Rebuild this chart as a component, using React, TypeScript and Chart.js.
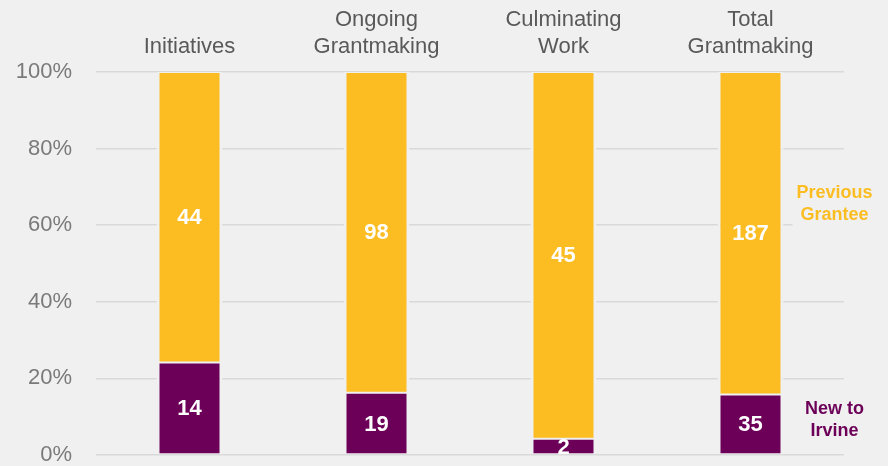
import React, { useEffect, useRef } from "react";
import { Chart, registerables } from "chart.js";

Chart.register(...registerables);

const categories: (string | string[])[] = [
  "Initiatives",
  ["Ongoing", "Grantmaking"],
  ["Culminating", "Work"],
  ["Total", "Grantmaking"],
];
const newToIrvine = [14, 19, 2, 35];
const previousGrantee = [44, 98, 45, 187];
const yTicks = [0, 20, 40, 60, 80, 100];

const seriesNames = ["New to Irvine", "Previous Grantee"];

const BG = "#f0f0f0";
const PURPLE = "#6c0058";
const YELLOW = "#fbbd22";

const pct = (v: number, i: number) => (v / (newToIrvine[i] + previousGrantee[i])) * 100;

const labelPlugin = {
  id: "segLabels",
  afterDatasetsDraw(chart: any) {
    const { ctx, chartArea } = chart;
    ctx.save();
    ctx.beginPath();
    ctx.rect(chartArea.left, chartArea.top, chartArea.right - chartArea.left, chartArea.bottom - chartArea.top);
    ctx.clip();
    ctx.fillStyle = "#ffffff";
    ctx.font = "bold 22px 'Liberation Sans', Arial, sans-serif";
    ctx.textAlign = "center";
    ctx.textBaseline = "middle";
    chart.data.datasets.forEach((ds: any, di: number) => {
      const meta = chart.getDatasetMeta(di);
      meta.data.forEach((bar: any, i: number) => {
        const top = Math.min(bar.y, bar.base);
        const bot = Math.max(bar.y, bar.base);
        ctx.fillText(String(ds.counts[i]), bar.x, (top + bot) / 2 + 1);
      });
    });
    ctx.restore();

    const y = chart.scales.y;
    const lastIdx = categories.length - 1;
    const lastBar = chart.getDatasetMeta(0).data[lastIdx];
    const x = lastBar.x + 84;
    const items = [
      { lines: ["New to", "Irvine"], color: PURPLE, v: 9.1 },
      { lines: ["Previous", "Grantee"], color: YELLOW, v: 65.5 },
    ];
    ctx.save();
    ctx.font = "bold 18px 'Liberation Sans', Arial, sans-serif";
    ctx.textAlign = "center";
    ctx.textBaseline = "middle";
    items.forEach((it) => {
      const cy = y.getPixelForValue(it.v);
      const lh = 21.5;
      const w = Math.max(...it.lines.map((l) => ctx.measureText(l).width)) + 8;
      ctx.fillStyle = BG;
      ctx.fillRect(x - w / 2, cy - lh - 2, w, lh * 2 + 4);
      ctx.fillStyle = it.color;
      ctx.fillText(it.lines[0], x, cy - lh / 2);
      ctx.fillText(it.lines[1], x, cy + lh / 2);
    });
    ctx.restore();
  },
};

const bgPlugin = {
  id: "bg",
  beforeDraw(chart: any) {
    const { ctx, width, height } = chart;
    ctx.save();
    ctx.fillStyle = BG;
    ctx.fillRect(0, 0, width, height);
    ctx.restore();
  },
};

export default function App() {
  const ref = useRef<HTMLCanvasElement | null>(null);
  useEffect(() => {
    document.body.style.margin = "0";
    document.body.style.background = BG;
    if (!ref.current) return;
    const border = { top: 1, bottom: 1, left: 3, right: 3 };
    const chart = new Chart(ref.current, {
      type: "bar",
      data: {
        labels: categories,
        datasets: [
          {
            label: seriesNames[0],
            data: newToIrvine.map((v, i) => pct(v, i)),
            counts: newToIrvine,
            backgroundColor: PURPLE,
            borderColor: BG,
            borderWidth: border,
            borderSkipped: false,
            barPercentage: 66 / 187,
            categoryPercentage: 1,
          } as any,
          {
            label: seriesNames[1],
            data: previousGrantee.map((v, i) => pct(v, i)),
            counts: previousGrantee,
            backgroundColor: YELLOW,
            borderColor: BG,
            borderWidth: border,
            borderSkipped: false,
            barPercentage: 66 / 187,
            categoryPercentage: 1,
          } as any,
        ],
      },
      options: {
        animation: false,
        responsive: false,
        layout: { padding: { left: 0, right: 44, top: 0, bottom: 11 } },
        plugins: { legend: { display: false }, tooltip: { enabled: false } },
        scales: {
          x: {
            position: "top",
            stacked: true,
            grid: { display: false, drawTicks: false },
            border: { display: false },
            ticks: {
              color: "#595959",
              font: { family: "'Liberation Sans', Arial, sans-serif", size: 22 },
              padding: 12,
              maxRotation: 0,
              autoSkip: false,
            },
            afterFit: (s: any) => {
              s.height = 72;
              s.paddingLeft = 0;
              s.paddingRight = 0;
            },
          },
          y: {
            stacked: true,
            min: 0,
            max: 100,
            afterBuildTicks: (s: any) => {
              s.ticks = yTicks.map((v) => ({ value: v }));
            },
            grid: { color: "#d9d9d9", lineWidth: 1.6, drawTicks: false },
            border: { display: false },
            ticks: {
              color: "#7a7a7a",
              font: { family: "'Liberation Sans', Arial, sans-serif", size: 22 },
              padding: 24,
              callback: (v: any) => v + "%",
            },
            afterFit: (s: any) => {
              s.width = 96;
              s.paddingTop = 0;
              s.paddingBottom = 0;
            },
          },
        },
      },
      plugins: [bgPlugin, labelPlugin],
    });
    return () => chart.destroy();
  }, []);
  return (
    <div style={{ width: 888, height: 466 }}>
      <canvas ref={ref} width={888} height={466} style={{ display: "block", width: 888, height: 466 }} />
    </div>
  );
}
